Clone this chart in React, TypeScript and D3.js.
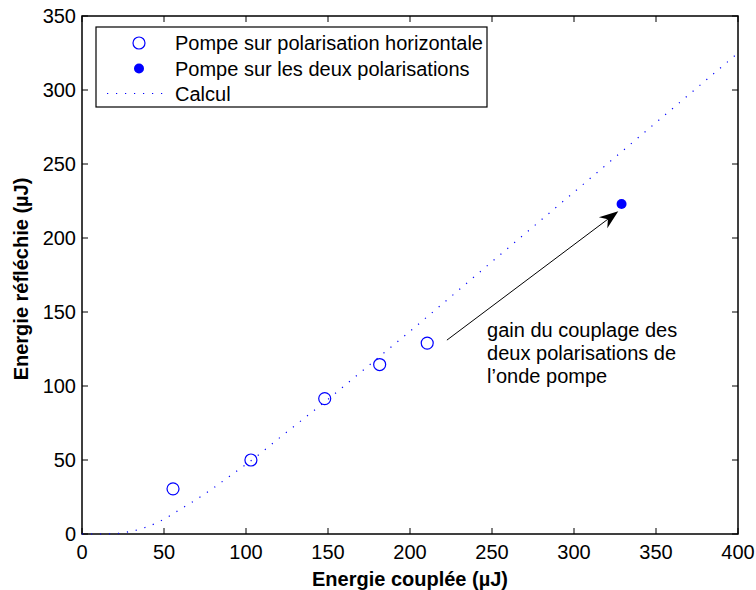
import React, { useEffect, useRef } from 'react';
import * as d3 from 'd3';

// measured points
const horizX = [55.5, 103, 148, 181.5, 210.5];
const horizY = [30.5, 50, 91.5, 114.5, 129];
const bothX = [329];
const bothY = [223];

// computed curve
const calcX = [0, 10, 20, 30, 40, 50, 60, 70, 80, 90, 100, 125, 150, 175, 200, 250, 300, 350, 400];
const calcY = [0, 0, 0.3, 1.8, 5, 10, 16.8, 23.5, 31, 39, 47, 69, 91, 114, 137, 184, 231, 278, 325];

const xTicks = [0, 50, 100, 150, 200, 250, 300, 350, 400];
const yTicks = [0, 50, 100, 150, 200, 250, 300, 350];

const legendLabels = ['Pompe sur polarisation horizontale', 'Pompe sur les deux polarisations', 'Calcul'];
const noteLines = ['gain du couplage des', 'deux polarisations de', 'l\u2019onde pompe'];
// arrow from / to, in data units
const arrowFrom = [222.5, 131];
const arrowTo = [327, 218];
const notePos = [247, 133];

const FONT = '"Liberation Sans", Arial, sans-serif';

const App: React.FC = () => {
  const ref = useRef<SVGSVGElement | null>(null);

  useEffect(() => {
    document.body.style.margin = '0';
    document.body.style.overflow = 'hidden';
    if (!ref.current) return;
    const svg = d3.select(ref.current);
    svg.selectAll('*').remove();

    const W = 756, H = 590;
    svg.attr('width', W).attr('height', H).style('display', 'block').style('background', '#fff');

    const x = d3.scaleLinear().domain([0, 400]).range([82, 738]);
    const y = d3.scaleLinear().domain([0, 350]).range([534, 16]);
    const [x0, x1] = x.range();
    const [y0, y1] = y.range();

    const g = svg.append('g');

    // box
    g.append('rect')
      .attr('x', x0).attr('y', y1).attr('width', x1 - x0).attr('height', y0 - y1)
      .attr('fill', 'none').attr('stroke', '#000').attr('stroke-width', 1.5);

    const tl = 6;
    xTicks.forEach(t => {
      g.append('line').attr('x1', x(t)).attr('x2', x(t)).attr('y1', y0).attr('y2', y0 - tl)
        .attr('stroke', '#000').attr('stroke-width', 1);
      g.append('line').attr('x1', x(t)).attr('x2', x(t)).attr('y1', y1).attr('y2', y1 + tl)
        .attr('stroke', '#000').attr('stroke-width', 1);
      g.append('text').attr('x', x(t)).attr('y', y0 + 25)
        .attr('text-anchor', 'middle').style('font-family', FONT).style('font-size', '20px')
        .text(t);
    });
    yTicks.forEach(t => {
      g.append('line').attr('x1', x0).attr('x2', x0 + tl).attr('y1', y(t)).attr('y2', y(t))
        .attr('stroke', '#000').attr('stroke-width', 1);
      g.append('line').attr('x1', x1).attr('x2', x1 - tl).attr('y1', y(t)).attr('y2', y(t))
        .attr('stroke', '#000').attr('stroke-width', 1);
      g.append('text').attr('x', x0 - 6).attr('y', y(t) + 7)
        .attr('text-anchor', 'end').style('font-family', FONT).style('font-size', '20px')
        .text(t);
    });

    // axis titles
    g.append('text').attr('x', (x0 + x1) / 2).attr('y', 586)
      .attr('text-anchor', 'middle').style('font-family', FONT).style('font-size', '20px')
      .style('font-weight', 'bold').text('Energie couplée (µJ)');
    g.append('text').attr('transform', `translate(28, 279) rotate(-90)`)
      .attr('text-anchor', 'middle').style('font-family', FONT).style('font-size', '20px')
      .style('font-weight', 'bold').text('Energie réfléchie (µJ)');

    // calc curve
    const line = d3.line<number>().x((_, i) => x(calcX[i])).y(d => y(d)).curve(d3.curveMonotoneX);
    g.append('path').datum(calcY).attr('d', line)
      .attr('fill', 'none').attr('stroke', '#0000ff').attr('stroke-width', 1.2)
      .attr('stroke-dasharray', '1.2,7.8');

    // markers
    g.selectAll('.h').data(horizY).enter().append('circle')
      .attr('cx', (_, i) => x(horizX[i])).attr('cy', d => y(d)).attr('r', 6)
      .attr('fill', 'none').attr('stroke', '#0000ff').attr('stroke-width', 1.2);
    g.selectAll('.b').data(bothY).enter().append('circle')
      .attr('cx', (_, i) => x(bothX[i])).attr('cy', d => y(d)).attr('r', 5)
      .attr('fill', '#0000ff');

    // arrow
    const ax0 = x(arrowFrom[0]), ay0 = y(arrowFrom[1]);
    const ax1 = x(arrowTo[0]), ay1 = y(arrowTo[1]);
    const ang = Math.atan2(ay1 - ay0, ax1 - ax0);
    const hl = 19, hw = 7, back = 13;
    const ux = Math.cos(ang), uy = Math.sin(ang);
    const px = -uy, py = ux;
    g.append('line').attr('x1', ax0).attr('y1', ay0)
      .attr('x2', ax1 - ux * back).attr('y2', ay1 - uy * back)
      .attr('stroke', '#000').attr('stroke-width', 1);
    const head = [
      [ax1, ay1],
      [ax1 - ux * hl + px * hw, ay1 - uy * hl + py * hw],
      [ax1 - ux * back, ay1 - uy * back],
      [ax1 - ux * hl - px * hw, ay1 - uy * hl - py * hw],
    ];
    g.append('path').attr('d', 'M' + head.map(p => p.join(',')).join('L') + 'Z').attr('fill', '#000');

    noteLines.forEach((t, i) => {
      g.append('text').attr('x', x(notePos[0])).attr('y', y(notePos[1]) + i * 23)
        .style('font-family', FONT).style('font-size', '20px').text(t);
    });

    // legend
    const lg = g.append('g');
    lg.append('rect').attr('x', 96).attr('y', 27).attr('width', 391).attr('height', 80)
      .attr('fill', '#fff').attr('stroke', '#000').attr('stroke-width', 1.2);
    const rowY = [43, 68.5, 93.5];
    lg.append('circle').attr('cx', 139).attr('cy', rowY[0]).attr('r', 6)
      .attr('fill', 'none').attr('stroke', '#0000ff').attr('stroke-width', 1.2);
    lg.append('circle').attr('cx', 139).attr('cy', rowY[1]).attr('r', 5).attr('fill', '#0000ff');
    lg.append('line').attr('x1', 107).attr('x2', 165).attr('y1', rowY[2]).attr('y2', rowY[2])
      .attr('stroke', '#0000ff').attr('stroke-width', 1.2).attr('stroke-dasharray', '1.2,7.8');
    legendLabels.forEach((t, i) => {
      lg.append('text').attr('x', 175).attr('y', rowY[i] + 7)
        .style('font-family', FONT).style('font-size', '20px').text(t);
    });
  }, []);

  return (
    <div>
      <svg ref={ref} />
    </div>
  );
};

export default App;
